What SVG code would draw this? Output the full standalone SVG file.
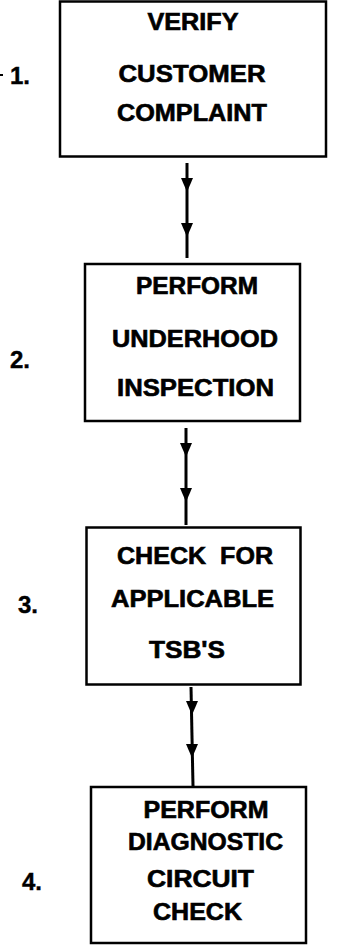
<svg xmlns="http://www.w3.org/2000/svg" xmlns:xlink="http://www.w3.org/1999/xlink" width="352" height="948" viewBox="0 0 352 948">
<style>
.box{fill:#fff;stroke:#000;stroke-width:2.5}
.t{font-family:"Liberation Sans",Arial,sans-serif;font-weight:bold;font-size:23px;fill:#000;stroke:#000;stroke-width:0.6;text-anchor:middle}
.n{font-family:"Liberation Sans",Arial,sans-serif;font-weight:bold;font-size:24px;fill:#000;stroke:#000;stroke-width:0.4}
.ln{stroke:#000;stroke-width:3;fill:none}
</style>
<defs>
<path id="ah" d="M-6,-7 L6,-7 L0,7 Z" fill="#000"/>
</defs>
<rect width="352" height="948" fill="#fff"/>
<g id="connectors">
<g id="c1"><line class="ln" x1="187" y1="163" x2="187" y2="258"/><use xlink:href="#ah" x="187" y="185"/><use xlink:href="#ah" x="187" y="230"/></g>
<g id="c2"><line class="ln" x1="186" y1="428" x2="186" y2="525"/><use xlink:href="#ah" x="186" y="450"/><use xlink:href="#ah" x="186" y="495"/></g>
<g id="c3"><line class="ln" x1="191" y1="687" x2="193" y2="786"/><use xlink:href="#ah" x="192" y="708"/><use xlink:href="#ah" x="192" y="751"/></g>
</g>
<g id="n1">
<rect class="box" x="60" y="1.5" width="266" height="155"/>
<text class="t" x="193" y="30" textLength="91" lengthAdjust="spacingAndGlyphs">VERIFY</text>
<text class="t" x="192" y="82" textLength="147" lengthAdjust="spacingAndGlyphs">CUSTOMER</text>
<text class="t" x="192" y="121" textLength="150" lengthAdjust="spacingAndGlyphs">COMPLAINT</text>
<rect x="0" y="74" width="3" height="2" fill="#000"/>
<text class="n" x="10" y="84">1.</text>
</g>
<g id="n2">
<rect class="box" x="85" y="264" width="215" height="157"/>
<text class="t" x="197" y="294" textLength="122" lengthAdjust="spacingAndGlyphs">PERFORM</text>
<text class="t" x="195" y="347" textLength="166" lengthAdjust="spacingAndGlyphs">UNDERHOOD</text>
<text class="t" x="195.5" y="396" textLength="157" lengthAdjust="spacingAndGlyphs">INSPECTION</text>
<text class="n" x="10" y="368">2.</text>
</g>
<g id="n3">
<rect class="box" x="86.5" y="527.5" width="214" height="157"/>
<text class="t" x="195" y="564" textLength="156" lengthAdjust="spacingAndGlyphs" xml:space="preserve">CHECK  FOR</text>
<text class="t" x="192.5" y="607" textLength="163" lengthAdjust="spacingAndGlyphs">APPLICABLE</text>
<text class="t" x="187" y="658" textLength="76" lengthAdjust="spacingAndGlyphs">TSB'S</text>
<text class="n" x="18" y="613">3.</text>
</g>
<g id="n4">
<rect class="box" x="91" y="787" width="215" height="156"/>
<text class="t" x="206" y="818" textLength="125" lengthAdjust="spacingAndGlyphs">PERFORM</text>
<text class="t" x="205.5" y="850" textLength="155" lengthAdjust="spacingAndGlyphs">DIAGNOSTIC</text>
<text class="t" x="200.5" y="887" textLength="107" lengthAdjust="spacingAndGlyphs">CIRCUIT</text>
<text class="t" x="197.5" y="920" textLength="89" lengthAdjust="spacingAndGlyphs">CHECK</text>
<text class="n" x="22" y="890">4.</text>
</g>
</svg>
